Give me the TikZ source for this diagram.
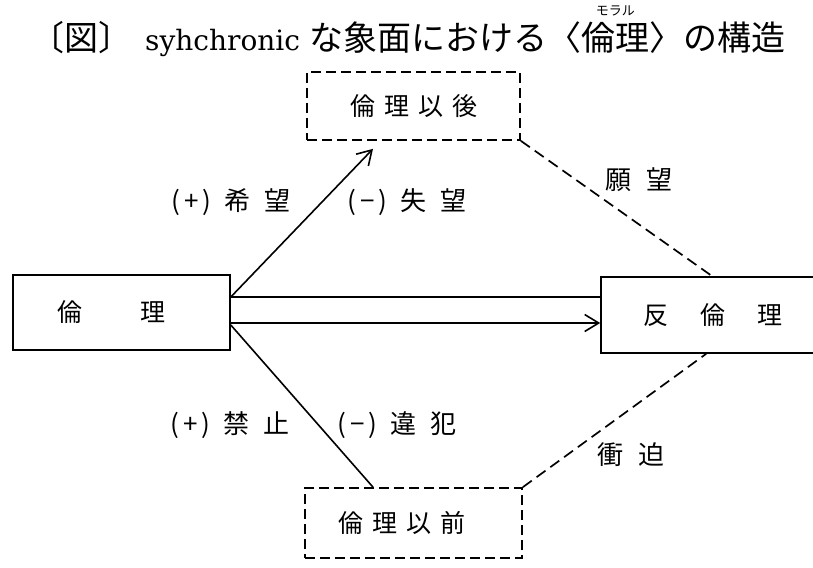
\documentclass[tikz,border=0pt]{standalone}
\usepackage{fontspec}
\newfontfamily\jp{Noto Sans CJK JP}
\newfontfamily\lat{DejaVu Serif}
\usetikzlibrary{arrows.meta}
\begin{document}
\begin{tikzpicture}[x=1pt,y=-1pt,
  lw/.style={line width=1.6pt},
  solidbox/.style={draw,lw,inner sep=0pt,font=\jp\fontsize{25}{25}\selectfont},
  dashbox/.style={draw,line width=1.7pt,dash pattern=on 10pt off 5pt,inner sep=0pt,font=\jp\fontsize{25}{25}\selectfont},
  lab/.style={inner sep=0pt,font=\jp\fontsize{26}{26}\selectfont},
  conn/.style={lw},
  dconn/.style={line width=1.7pt,dash pattern=on 11pt off 6pt},
  barb/.style={-{Straight Barb[length=14pt,width=17pt]}}
]
\useasboundingbox (0,0) rectangle (813,567);
\fill[white] (0,0) rectangle (813,567);
\begin{scope}
\clip (0,0) rectangle (813,567);
% title
\node[anchor=base west,inner sep=0pt,font=\fontsize{34}{34}\selectfont] (t1) at (30,51)
  {{\jp 〔図〕}\hspace{13pt}{\lat\fontsize{28}{28}\selectfont syhchronic}\hspace{9pt}{\jp な象面における〈}};
\node[anchor=base west,inner sep=0pt,font=\jp\fontsize{34}{34}\selectfont] (t2) at (t1.base east) {倫理};
\node[anchor=base west,inner sep=0pt,font=\jp\fontsize{34}{34}\selectfont] (t3) at (t2.base east) {〉の構造};
\node[anchor=base,inner sep=0pt,font=\jp\fontsize{13}{13}\selectfont] (ruby) at ([yshift=35pt]t2.base) {モラル};

% boxes
\node[solidbox,minimum width=217pt,minimum height=75pt] (L) at (121.5,312.5) {倫\hspace{58pt}理\hspace{20pt}\null};
\node[solidbox,minimum width=260pt,minimum height=76pt] (R) at (731,315) {反\hspace{32pt}倫\hspace{32pt}理\hspace{36pt}\null};
\node[dashbox,minimum width=213pt,minimum height=68pt] (T) at (413.5,106) {倫\hspace{9pt}理\hspace{9pt}以\hspace{9pt}後};
\node[dashbox,minimum width=217pt,minimum height=70pt] (B) at (413.5,523) {倫\hspace{9pt}理\hspace{9pt}以\hspace{9pt}前\hspace{24pt}\null};

% connector end points
\coordinate (Lu) at ([yshift=15.5pt]L.east);
\coordinate (Ld) at ([yshift=-10.5pt]L.east);
\coordinate (Ldd) at ([yshift=-12.5pt]L.east);
\coordinate (Tt) at ([xshift=-40.5pt,yshift=-8pt]T.south);
\coordinate (Bt) at ([xshift=-40.5pt]B.north);
\coordinate (Rt) at ([xshift=112pt]R.north west);
\coordinate (Rb) at ([xshift=106pt]R.south west);

% connectors
\draw[conn,barb] (Lu) -- (Tt);
\draw[conn] (Lu) -- (Lu -| R.west);
\draw[conn,barb] (Ld) -- (Ld -| R.west);
\draw[conn] (Ldd) -- (Bt);
\draw[dconn] (T.south east) -- (Rt);
\draw[dconn] (B.north east) -- (Rb);

% labels
\node[lab] (l1) at (231,202) {(\hspace{4pt}+\hspace{4pt})\hspace{13pt}希\hspace{14pt}望};
\node[lab] (l2) at (407,202) {(\hspace{4pt}−\hspace{4pt})\hspace{13pt}失\hspace{14pt}望};
\node[lab] (l3) at (230,425) {(\hspace{4pt}+\hspace{4pt})\hspace{13pt}禁\hspace{14pt}止};
\node[lab] (l4) at (397,425) {(\hspace{4pt}−\hspace{4pt})\hspace{13pt}違\hspace{14pt}犯};
\node[lab] (l5) at (639,180) {願\hspace{16pt}望};
\node[lab] (l6) at (631,455) {衝\hspace{16pt}迫};
\end{scope}
\end{tikzpicture}
\end{document}
